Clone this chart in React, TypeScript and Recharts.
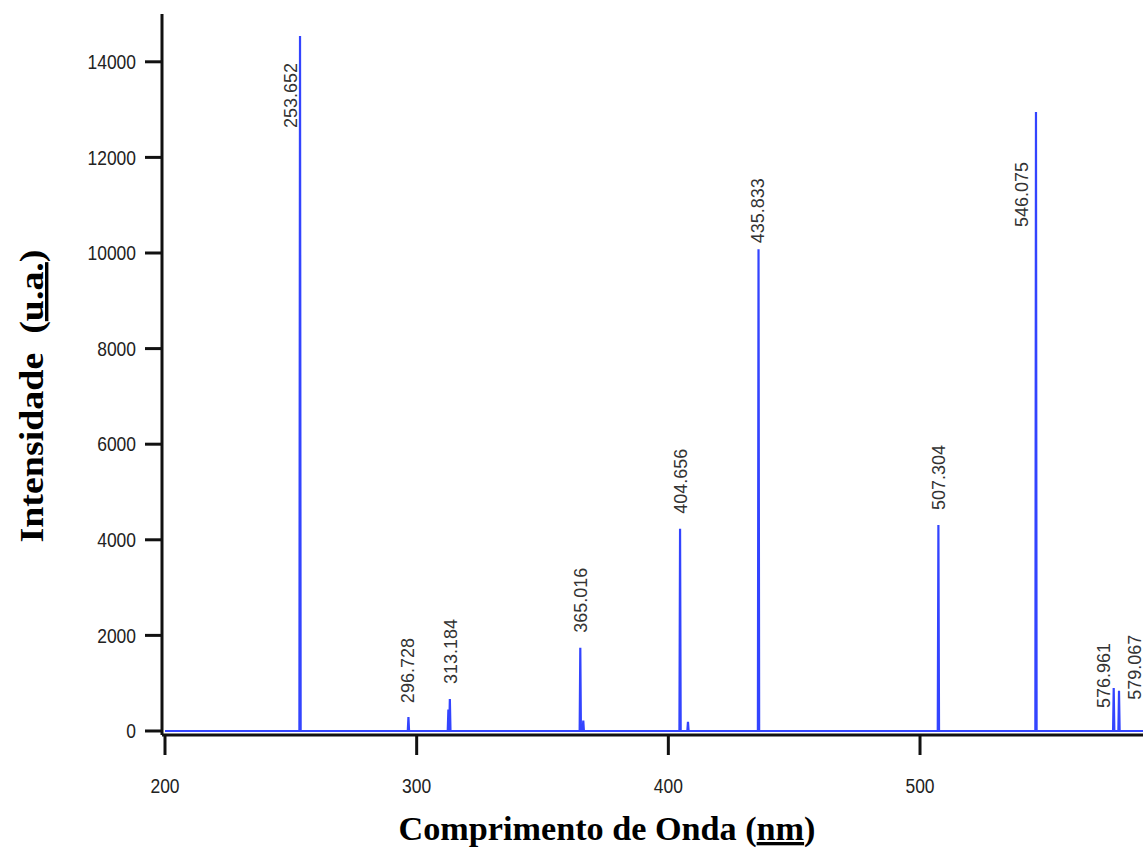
import { ComposedChart, Line, Scatter, XAxis, YAxis } from 'recharts';

// Hg emission lines (nm) and their intensities (a.u.)
const peakWavelengths = [253.652, 296.728, 313.184, 365.016, 404.656, 435.833, 507.304, 546.075, 576.961, 579.067];
const peakIntensities = [14540, 290, 670, 1740, 4230, 10080, 4310, 12950, 900, 840];
const peakLabels = ['253.652', '296.728', '313.184', '365.016', '404.656', '435.833', '507.304', '546.075', '576.961', '579.067'];

// small unlabeled shoulders next to the main lines
const minorWavelengths = [312.6, 366.2, 407.8];
const minorIntensities = [450, 220, 190];

const xTicks = [200, 300, 400, 500];
const yTicks = [0, 2000, 4000, 6000, 8000, 10000, 12000, 14000];

// where each label sits relative to its line tip: [dx, dy of text bottom]
const labelOffsets = [
  [-10, 92], [-1, -14], [1, -15], [0, -15], [0, -15],
  [-1, -6], [0, -15], [-14, 115], [-10, 20], [15, 9],
];

const BLUE = '#3344ff';
const HALF_WIDTH = 0.25;

const buildSpectrum = () => {
  const lines = [
    ...peakWavelengths.map((w, i) => ({ w, h: peakIntensities[i] })),
    ...minorWavelengths.map((w, i) => ({ w, h: minorIntensities[i] })),
  ].sort((a, b) => a.w - b.w);
  const pts: { x: number; y: number }[] = [{ x: 200, y: 0 }];
  lines.forEach(({ w, h }) => {
    pts.push({ x: w - HALF_WIDTH, y: 0 }, { x: w, y: h }, { x: w + HALF_WIDTH, y: 0 });
  });
  pts.push({ x: 588.6, y: 0 });
  return pts;
};

const spectrum = buildSpectrum();
const labelData = peakWavelengths.map((w, i) => ({
  x: w,
  y: peakIntensities[i],
  label: peakLabels[i],
  dx: labelOffsets[i][0],
  dy: labelOffsets[i][1],
}));

const XTick = ({ x, y, payload }: any) => {
  const s = String(payload.value);
  return (
    <text x={x} y={y + 38} textAnchor="middle" fontSize={20} fontFamily="Liberation Sans" fill="#222"
      textLength={s.length * 9.7} lengthAdjust="spacingAndGlyphs">
      {s}
    </text>
  );
};

const YTick = ({ x, y, payload }: any) => {
  const s = String(payload.value);
  return (
    <text x={x} y={y} dy="0.36em" textAnchor="end" fontSize={20} fontFamily="Liberation Sans" fill="#222"
      textLength={s.length * 9.7} lengthAdjust="spacingAndGlyphs">
      {s}
    </text>
  );
};

const PeakLabel = ({ cx, cy, payload }: any) => {
  const bx = cx + payload.dx + 6.5;
  const by = cy + payload.dy;
  return (
    <text x={bx} y={by} transform={`rotate(-90 ${bx} ${by})`} fontSize={18}
      fontFamily="Liberation Sans" fill="#333">
      {payload.label}
    </text>
  );
};

const XTitle = () => (
  <text x={607} y={840} textAnchor="middle" fontSize={33} fontWeight="bold" fontFamily="Liberation Serif"
    fill="#000" textLength={417} lengthAdjust="spacingAndGlyphs">
    Comprimento de Onda (<tspan style={{ textDecoration: 'underline' }}>nm</tspan>)
  </text>
);

const YTitle = () => (
  <text x={43} y={396} transform="rotate(-90 43 396)" textAnchor="middle" fontSize={34} fontWeight="bold"
    fontFamily="Liberation Serif" fill="#000" textLength={293} lengthAdjust="spacingAndGlyphs"
    style={{ whiteSpace: 'pre' }}>
    Intensidade  (<tspan style={{ textDecoration: 'underline' }}>u.a.</tspan>)
  </text>
);

export default function App() {
  return (
    <div style={{ position: 'absolute', left: 0, top: 0, width: 1143, height: 850, background: '#fff' }}>
      <ComposedChart width={1143} height={850} margin={{ top: 14, right: 0, left: 0, bottom: 55 }}>
        <XAxis
          type="number"
          dataKey="x"
          domain={[198.81, 588.6]}
          allowDataOverflow
          ticks={xTicks}
          tickSize={20}
          tickMargin={0}
          height={60}
          axisLine={{ stroke: '#111', strokeWidth: 3 }}
          tickLine={{ stroke: '#111', strokeWidth: 3 }}
          tick={<XTick />}
          label={{ content: () => <XTitle /> }}
        />
        <YAxis
          type="number"
          dataKey="y"
          domain={[-84, 15000]}
          allowDataOverflow
          ticks={yTicks}
          tickSize={17}
          tickMargin={9}
          width={162}
          axisLine={{ stroke: '#111', strokeWidth: 3 }}
          tickLine={{ stroke: '#111', strokeWidth: 3 }}
          tick={<YTick />}
          label={{ content: () => <YTitle /> }}
        />
        <Line
          data={spectrum}
          dataKey="y"
          type="linear"
          stroke={BLUE}
          strokeWidth={2.2}
          dot={false}
          activeDot={false}
          isAnimationActive={false}
        />
        <Scatter
          data={labelData}
          dataKey="y"
          shape={(p: any) => <PeakLabel {...p} />}
          isAnimationActive={false}
        />
      </ComposedChart>
    </div>
  );
}
